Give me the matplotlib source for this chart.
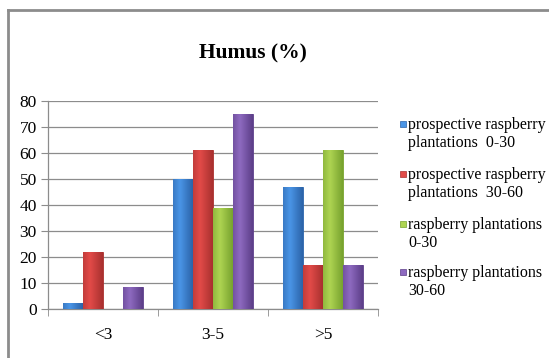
import numpy as np
import matplotlib
matplotlib.use("Agg")
import matplotlib.pyplot as plt
from matplotlib.colors import LinearSegmentedColormap
from matplotlib.lines import Line2D
from matplotlib.patches import Rectangle

# Humus content (%) by class
categories = ["<3", "3-5", ">5"]
series_names = [
    "prospective raspberry\nplantations  0-30",
    "prospective raspberry\nplantations  30-60",
    "raspberry plantations\n0-30",
    "raspberry plantations\n30-60",
]
prosp_0_30 = [2.5, 50, 47]
prosp_30_60 = [22, 61, 17]
rasp_0_30 = [0, 39, 61]
rasp_30_60 = [8.5, 75, 17]
series = [prosp_0_30, prosp_30_60, rasp_0_30, rasp_30_60]

# (dark, light) per series
colors = [("#2B63A8", "#4A95E6"), ("#A8302F", "#E24B48"),
          ("#77A22E", "#AED452"), ("#5C3E88", "#8E6AC0")]

plt.rcParams['font.family'] = ['Liberation Serif', 'DejaVu Serif']

fig = plt.figure(figsize=(5.49, 3.58), dpi=100)
ax = fig.add_axes([48/549, 49/358, 330/549, 208/358])

x = np.arange(len(categories))
w = 0.18
grad = np.linspace(0, 1, 64)
grad = np.vstack([1 - np.abs(grad - 0.35) / 0.65] * 2)

for k, vals in enumerate(series):
    dark, light = colors[k]
    bars = ax.bar(x + (k - 1.5) * w, vals, w, color=light, edgecolor=dark,
                  linewidth=0.6, zorder=3)
    cmap = LinearSegmentedColormap.from_list("g%d" % k, [dark, light])
    for b in bars:
        if b.get_height() <= 0:
            continue
        im = ax.imshow(grad, cmap=cmap, aspect='auto', zorder=3.5,
                       extent=[b.get_x(), b.get_x() + b.get_width(), 0, b.get_height()],
                       interpolation='bicubic')
        im.set_clip_path(b)

ax.set_xlim(-0.5, 2.5)
ax.set_ylim(0, 80)
ax.set_yticks(range(0, 81, 10))
ax.yaxis.grid(True, color="#8C8C8C", linewidth=0.9, zorder=0)
ax.set_axisbelow(True)

ax.set_xticks(x)
ax.set_xticklabels(categories, fontsize=12.5)
ax.set_xticks([-0.5, 0.5, 1.5, 2.5], minor=True)
ax.tick_params(axis='x', which='major', length=0, pad=13)
ax.tick_params(axis='x', which='minor', length=5, color="#8C8C8C")
ax.tick_params(axis='y', length=5, color="#8C8C8C", labelsize=12.5, pad=3)

for s in ["top", "right"]:
    ax.spines[s].set_visible(False)
for s in ["left", "bottom"]:
    ax.spines[s].set_color("#8C8C8C")
    ax.spines[s].set_linewidth(0.9)

fig.text(253/549, 1 - 53/358, "Humus (%)", ha='center', va='center',
         fontsize=15.5, fontweight='bold')

# legend drawn by hand, Excel style
leg_y = [123, 173, 223, 271]
for k, name in enumerate(series_names):
    y = 1 - leg_y[k] / 358
    fig.patches.append(Rectangle((400/549, y - 4/358), 6/549, 6/358,
                                 transform=fig.transFigure,
                                 facecolor=colors[k][1], edgecolor=colors[k][0],
                                 linewidth=0.5))
    fig.text(408/549, y + 6/358, name, ha='left', va='top', fontsize=11.5,
             linespacing=1.2)

# outer frame (left and top edges)
fig.add_artist(Line2D([8/549, 8/549], [0, 1 - 10/358], color="#8C8C8C",
                      linewidth=2, transform=fig.transFigure))
fig.add_artist(Line2D([8/549, 1], [1 - 10/358, 1 - 10/358], color="#8C8C8C",
                      linewidth=2, transform=fig.transFigure))

fig.savefig("out.png", dpi=100)
